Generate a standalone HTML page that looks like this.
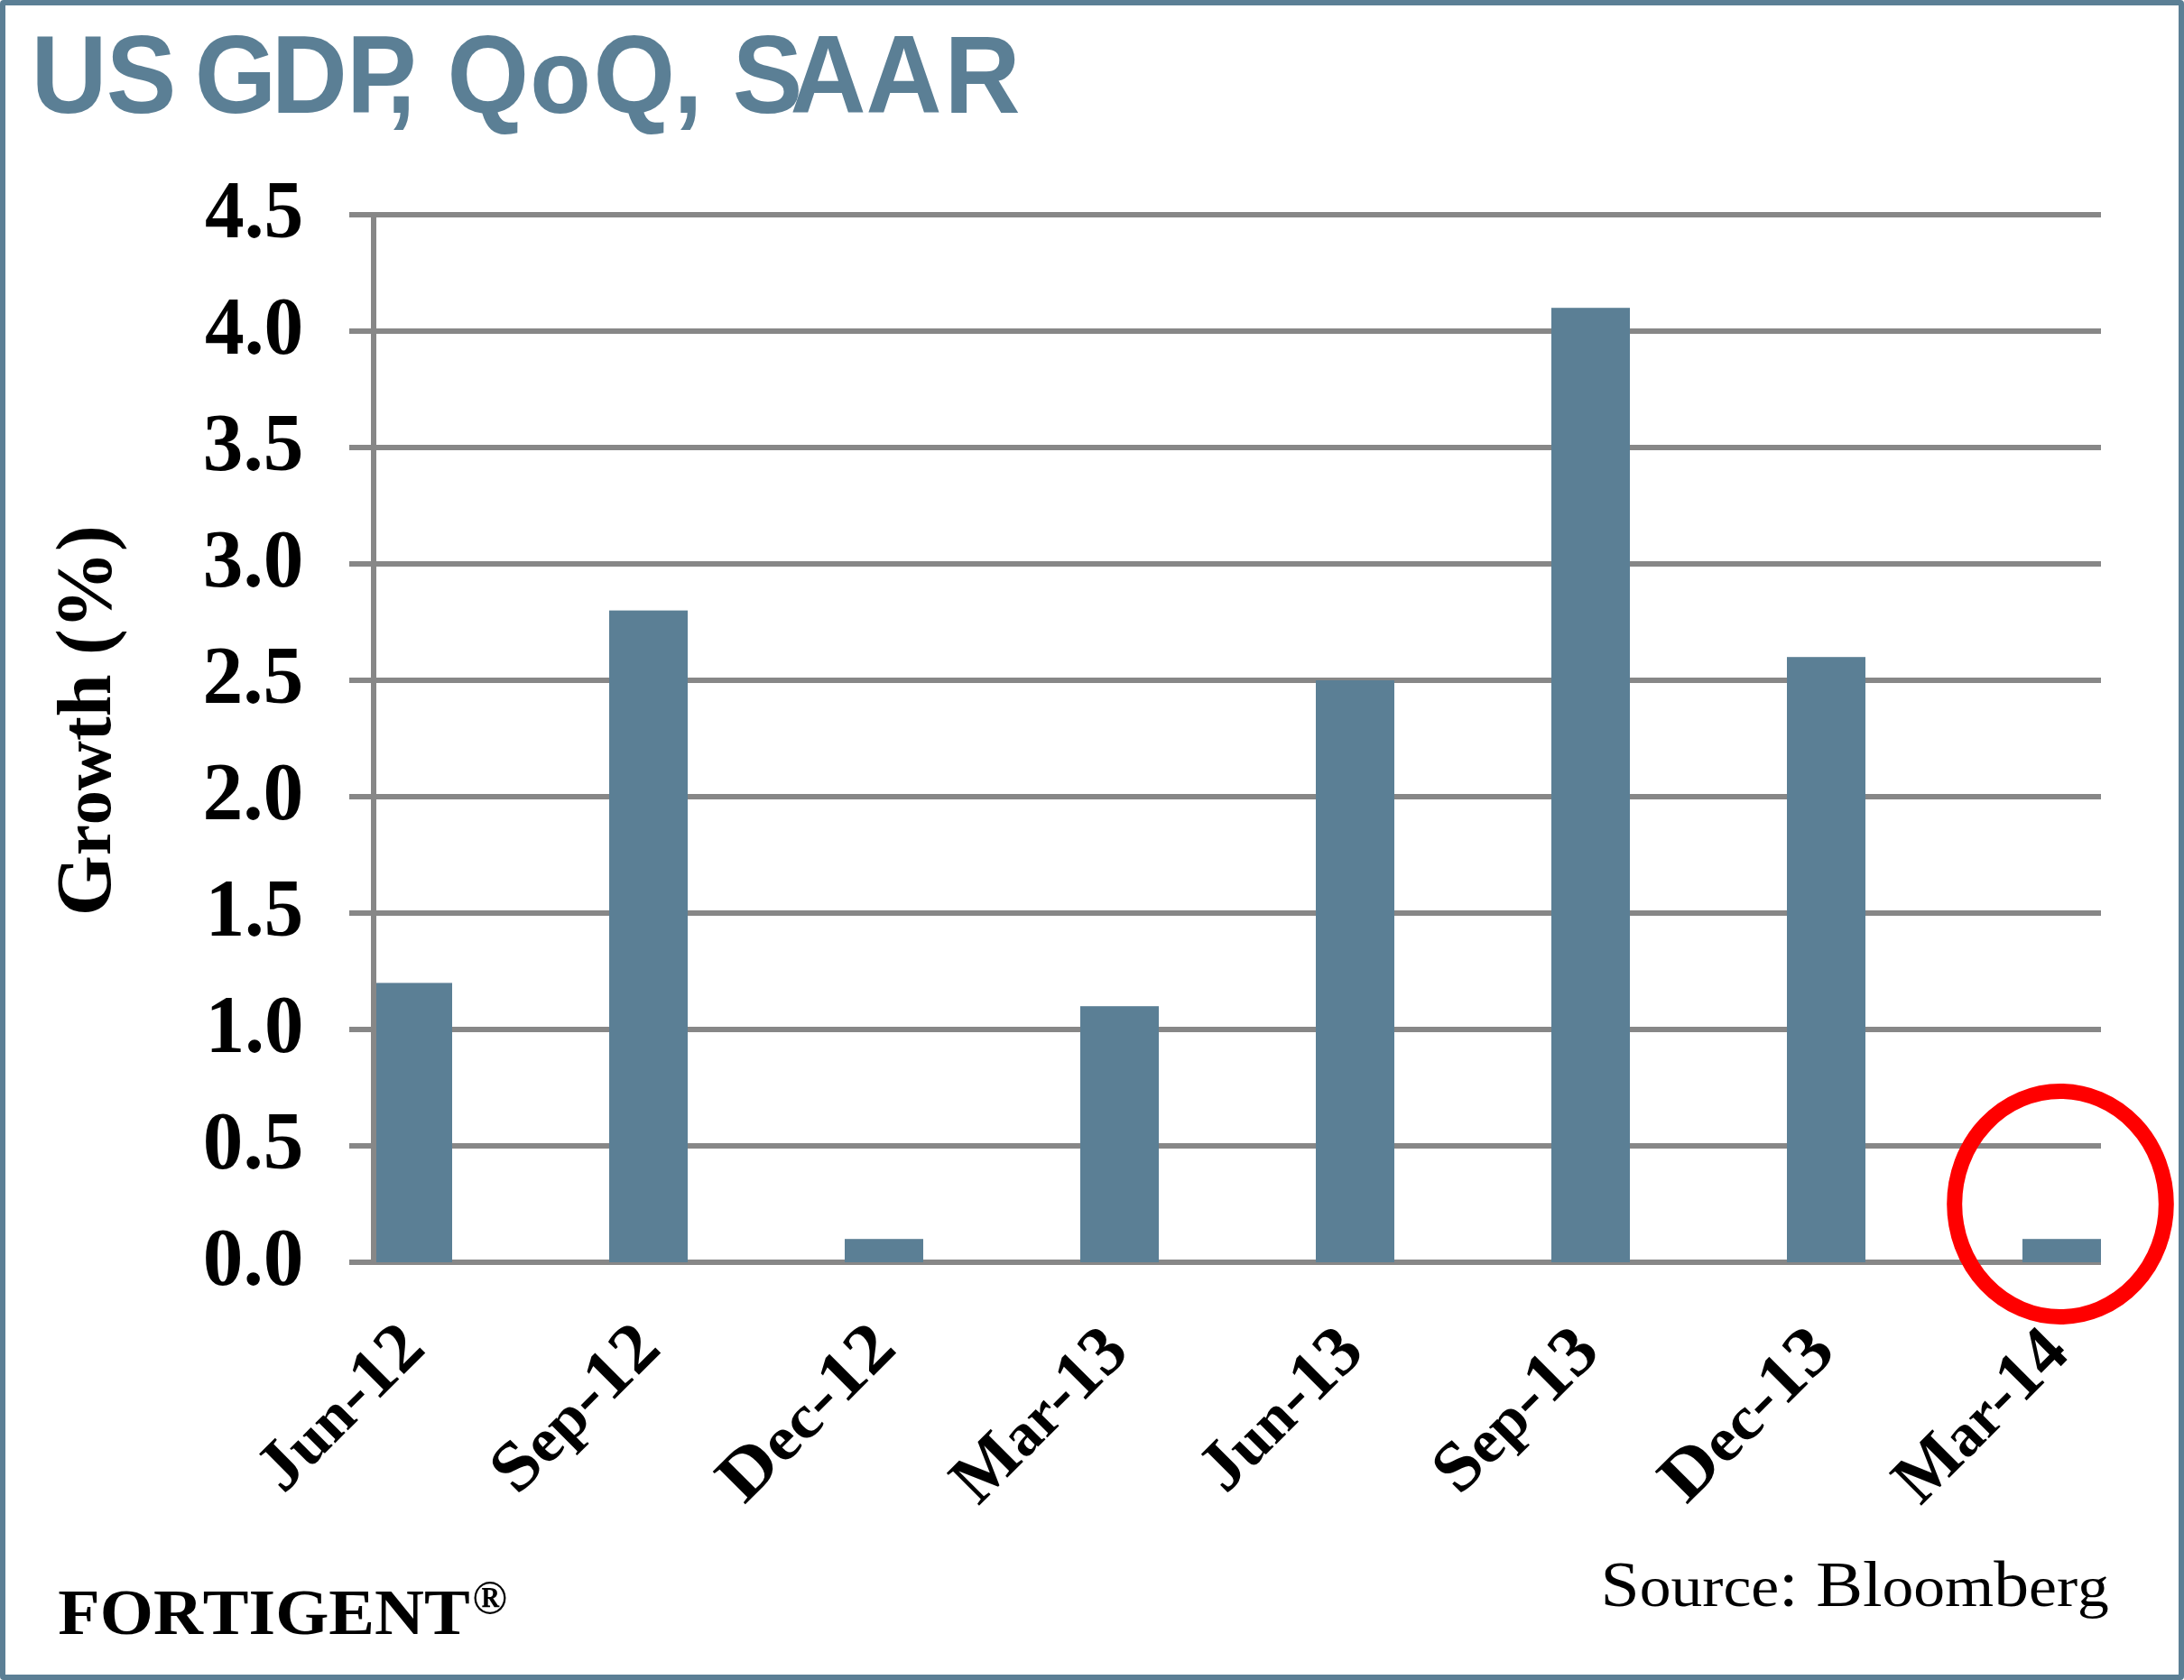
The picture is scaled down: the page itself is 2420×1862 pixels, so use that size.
<!DOCTYPE html>
<html><head><meta charset="utf-8"><title>US GDP, QoQ, SAAR</title>
<style>
html,body{margin:0;padding:0;background:#fff;overflow:hidden;}
.frame{position:relative;width:2420px;height:1862px;box-sizing:border-box;border:6px solid #5b7f95;border-radius:4px;background:#fff;overflow:hidden;}
svg{position:absolute;left:-6px;top:-6px;}
text{font-kerning:none;}
</style></head>
<body><div class="frame"><svg width="2420" height="1862" viewBox="0 0 2420 1862">
<rect x="387" y="1396.00" width="1941" height="6" fill="#878787"/>
<rect x="387" y="1267.00" width="1941" height="6" fill="#878787"/>
<rect x="387" y="1138.00" width="1941" height="6" fill="#878787"/>
<rect x="387" y="1009.00" width="1941" height="6" fill="#878787"/>
<rect x="387" y="880.00" width="1941" height="6" fill="#878787"/>
<rect x="387" y="751.00" width="1941" height="6" fill="#878787"/>
<rect x="387" y="622.00" width="1941" height="6" fill="#878787"/>
<rect x="387" y="493.00" width="1941" height="6" fill="#878787"/>
<rect x="387" y="364.00" width="1941" height="6" fill="#878787"/>
<rect x="387" y="235.00" width="1941" height="6" fill="#878787"/>
<rect x="414" y="1089.40" width="87" height="309.60" fill="#5b7f95"/>
<rect x="675" y="676.60" width="87" height="722.40" fill="#5b7f95"/>
<rect x="936" y="1373.20" width="87" height="25.80" fill="#5b7f95"/>
<rect x="1197" y="1115.20" width="87" height="283.80" fill="#5b7f95"/>
<rect x="1458" y="754.00" width="87" height="645.00" fill="#5b7f95"/>
<rect x="1719" y="341.20" width="87" height="1057.80" fill="#5b7f95"/>
<rect x="1980" y="728.20" width="87" height="670.80" fill="#5b7f95"/>
<rect x="2241" y="1373.20" width="87" height="25.80" fill="#5b7f95"/>
<rect x="411" y="241.00" width="6" height="1161.00" fill="#878787"/>
<text x="224.80" y="1424.20" textLength="111.60" lengthAdjust="spacingAndGlyphs" font-family="'Liberation Serif', 'Times New Roman', serif" font-weight="bold" font-size="91">0.0</text>
<text x="224.80" y="1295.20" textLength="111.46" lengthAdjust="spacingAndGlyphs" font-family="'Liberation Serif', 'Times New Roman', serif" font-weight="bold" font-size="91">0.5</text>
<text x="227.75" y="1166.20" textLength="108.56" lengthAdjust="spacingAndGlyphs" font-family="'Liberation Serif', 'Times New Roman', serif" font-weight="bold" font-size="91">1.0</text>
<text x="227.75" y="1037.20" textLength="108.42" lengthAdjust="spacingAndGlyphs" font-family="'Liberation Serif', 'Times New Roman', serif" font-weight="bold" font-size="91">1.5</text>
<text x="224.44" y="908.20" textLength="111.97" lengthAdjust="spacingAndGlyphs" font-family="'Liberation Serif', 'Times New Roman', serif" font-weight="bold" font-size="91">2.0</text>
<text x="224.44" y="779.20" textLength="111.83" lengthAdjust="spacingAndGlyphs" font-family="'Liberation Serif', 'Times New Roman', serif" font-weight="bold" font-size="91">2.5</text>
<text x="224.84" y="650.20" textLength="111.55" lengthAdjust="spacingAndGlyphs" font-family="'Liberation Serif', 'Times New Roman', serif" font-weight="bold" font-size="91">3.0</text>
<text x="224.85" y="521.20" textLength="111.42" lengthAdjust="spacingAndGlyphs" font-family="'Liberation Serif', 'Times New Roman', serif" font-weight="bold" font-size="91">3.5</text>
<text x="227.00" y="392.20" textLength="109.33" lengthAdjust="spacingAndGlyphs" font-family="'Liberation Serif', 'Times New Roman', serif" font-weight="bold" font-size="91">4.0</text>
<text x="227.01" y="263.20" textLength="109.19" lengthAdjust="spacingAndGlyphs" font-family="'Liberation Serif', 'Times New Roman', serif" font-weight="bold" font-size="91">4.5</text>
<text transform="translate(0,0) rotate(-45)" x="-949.58" y="1393.6" textLength="225.95" lengthAdjust="spacingAndGlyphs" font-family="'Liberation Serif', 'Times New Roman', serif" font-weight="bold" font-size="78">J<tspan font-size="68">un</tspan>-12</text>
<text transform="translate(261,0) rotate(-45)" x="-952.00" y="1393.6" textLength="228.46" lengthAdjust="spacingAndGlyphs" font-family="'Liberation Serif', 'Times New Roman', serif" font-weight="bold" font-size="78">S<tspan font-size="68">ep</tspan>-12</text>
<text transform="translate(522,0) rotate(-45)" x="-965.60" y="1393.6" textLength="242.18" lengthAdjust="spacingAndGlyphs" font-family="'Liberation Serif', 'Times New Roman', serif" font-weight="bold" font-size="78">D<tspan font-size="68">ec</tspan>-12</text>
<text transform="translate(783,0) rotate(-45)" x="-967.82" y="1393.6" textLength="238.75" lengthAdjust="spacingAndGlyphs" font-family="'Liberation Serif', 'Times New Roman', serif" font-weight="bold" font-size="78">M<tspan font-size="68">ar</tspan>-13</text>
<text transform="translate(1044,0) rotate(-45)" x="-949.50" y="1393.6" textLength="220.48" lengthAdjust="spacingAndGlyphs" font-family="'Liberation Serif', 'Times New Roman', serif" font-weight="bold" font-size="78">J<tspan font-size="68">un</tspan>-13</text>
<text transform="translate(1305,0) rotate(-45)" x="-951.90" y="1393.6" textLength="222.96" lengthAdjust="spacingAndGlyphs" font-family="'Liberation Serif', 'Times New Roman', serif" font-weight="bold" font-size="78">S<tspan font-size="68">ep</tspan>-13</text>
<text transform="translate(1566,0) rotate(-45)" x="-965.57" y="1393.6" textLength="236.73" lengthAdjust="spacingAndGlyphs" font-family="'Liberation Serif', 'Times New Roman', serif" font-weight="bold" font-size="78">D<tspan font-size="68">ec</tspan>-13</text>
<text transform="translate(1827,0) rotate(-45)" x="-967.80" y="1393.6" textLength="236.32" lengthAdjust="spacingAndGlyphs" font-family="'Liberation Serif', 'Times New Roman', serif" font-weight="bold" font-size="78">M<tspan font-size="68">ar</tspan>-14</text>
<text transform="rotate(-90)" x="-1015.21" y="122" textLength="433.00" lengthAdjust="spacingAndGlyphs" font-family="'Liberation Serif', 'Times New Roman', serif" font-weight="bold" font-size="86">G<tspan font-size="76">row</tspan><tspan font-size="80">t</tspan><tspan font-size="84">h</tspan> (%)</text>
<text transform="scale(0.9540,1)" y="124.7" font-family="'Liberation Sans', Arial, sans-serif" font-weight="bold" font-size="122" fill="#5b7f95"><tspan x="36.09 123.35 204.73 226.10 315.27 402.60 448.82 482.71 519.48">US GDP, Q</tspan><tspan x="615.61" font-size="116">o</tspan><tspan x="689.34 782.25 816.15 850.97 917.72 1005.66 1096.97">Q, SAAR</tspan></text>
<text x="1773.50" y="1779.7" textLength="563.32" lengthAdjust="spacingAndGlyphs" font-family="'Liberation Serif', 'Times New Roman', serif" font-size="71.5">S<tspan font-size="64">ource</tspan>: Bl<tspan font-size="64">oom</tspan>b<tspan font-size="64">erg</tspan></text>
<text x="64.30" y="1810.5" textLength="456.35" lengthAdjust="spacingAndGlyphs" font-family="'Liberation Serif', 'Times New Roman', serif" font-weight="bold" font-size="72.4">FORTIGENT</text>
<text x="523.27" y="1788.49" font-family="'Liberation Serif', 'Times New Roman', serif" font-weight="bold" font-size="51.85">®</text>
<ellipse cx="2283" cy="1334.5" rx="117.3" ry="125" fill="none" stroke="#ff0000" stroke-width="17"/>
</svg></div></body></html>
